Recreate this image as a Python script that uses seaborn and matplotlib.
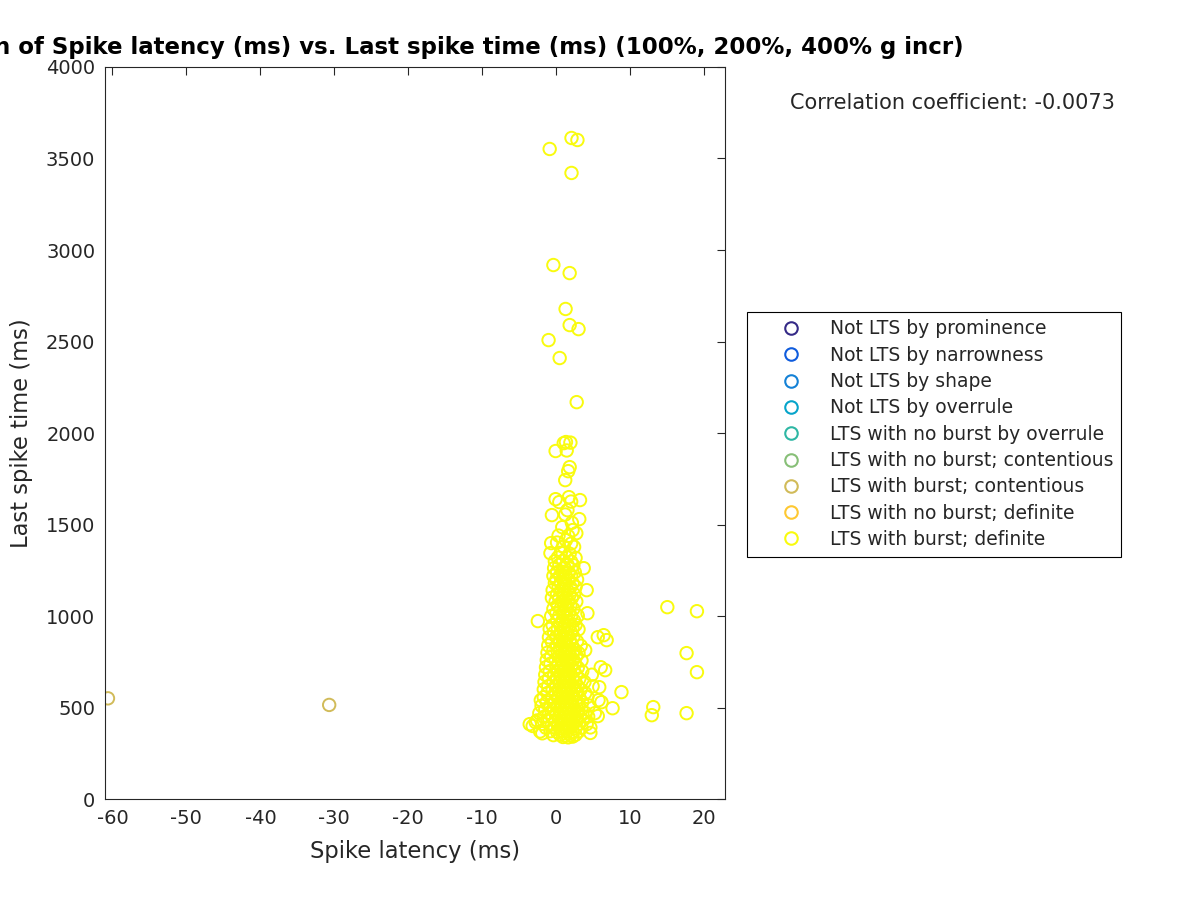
import matplotlib
matplotlib.use("Agg")
import matplotlib.pyplot as plt
from matplotlib.lines import Line2D
import numpy as np
import pandas as pd
import seaborn as sns

title = "Correlation of Spike latency (ms) vs. Last spike time (ms) (100%, 200%, 400% g incr)"
x_label = "Spike latency (ms)"
y_label = "Last spike time (ms)"
corr_text = "Correlation coefficient: -0.0073"

categories = [
    "Not LTS by prominence",
    "Not LTS by narrowness",
    "Not LTS by shape",
    "Not LTS by overrule",
    "LTS with no burst by overrule",
    "LTS with no burst; contentious",
    "LTS with burst; contentious",
    "LTS with no burst; definite",
    "LTS with burst; definite",
]
colors = ["#352A87", "#0F5CDD", "#1481D6", "#06A4CA", "#2EB7A4",
          "#87BF77", "#D1BB59", "#FEC832", "#F9FB0E"]

x_ticks = [-60, -50, -40, -30, -20, -10, 0, 10, 20]
y_ticks = [0, 500, 1000, 1500, 2000, 2500, 3000, 3500, 4000]

# (spike latency, last spike time) -- LTS with burst; contentious
contentious_pairs = [(-60.6, 551), (-30.7, 515)]

# (spike latency, last spike time) -- LTS with burst; definite
definite_pairs = [
    # high outliers
    (-0.9, 3552), (2.05, 3612), (2.85, 3601), (2.05, 3421), (-0.4, 2918), (1.8, 2874),
    (1.25, 2678), (1.8, 2590), (3.0, 2568), (-1.05, 2508), (0.45, 2410), (2.75, 2169),
    # far right outliers
    (13.1, 503), (12.9, 459), (15.0, 1049), (19.0, 1027), (17.6, 798), (19.0, 694), (17.6, 470),
    # upper part of the column
    (1.3, 1951), (1.9, 1948), (1.0, 1945), (-0.1, 1902), (1.4, 1905), (1.8, 1814), (1.6, 1792),
    (1.2, 1743), (1.7, 1650), (-0.1, 1639), (3.2, 1634), (0.4, 1623), (2.0, 1626),
    (1.5, 1579), (-0.6, 1552), (1.2, 1555), (3.1, 1530), (2.1, 1510), (0.8, 1486),
    (2.2, 1470), (2.7, 1453), (0.3, 1440), (1.6, 1438), (1.3, 1415), (-0.7, 1399),
    (0.1, 1402), (2.0, 1396), (1.0, 1380), (2.4, 1378), (-0.8, 1344), (0.6, 1346),
    (1.8, 1341), (0.2, 1320), (1.4, 1322), (2.6, 1318), (-0.2, 1300), (0.9, 1302),
    (2.0, 1298), (0.4, 1280), (1.5, 1282), (2.3, 1278), (-0.3, 1262), (1.1, 1264),
    (3.7, 1262),
    # core
    (0.1, 1240), (0.8, 1242), (1.7, 1238), (2.5, 1240),
    (-0.4, 1220), (0.5, 1222), (1.3, 1218), (2.0, 1220),
    (0.0, 1200), (0.9, 1202), (1.6, 1198), (2.8, 1200),
    (-0.2, 1180), (0.6, 1182), (1.2, 1178), (2.2, 1180),
    (0.3, 1160), (1.0, 1162), (1.9, 1158), (2.6, 1160),
    (-0.5, 1142), (0.7, 1144), (1.5, 1140), (4.1, 1142),
    (0.1, 1120), (0.9, 1122), (1.8, 1118), (2.4, 1120),
    (-0.6, 1100), (0.4, 1102), (1.3, 1098), (2.1, 1100),
    (-0.1, 1080), (0.8, 1082), (1.6, 1078), (2.7, 1080),
    (0.2, 1060), (1.1, 1062), (1.9, 1058),
    (-0.4, 1040), (0.6, 1042), (1.4, 1038), (2.3, 1040),
    (0.0, 1016), (0.9, 1018), (1.7, 1014), (4.2, 1016),
    (-0.7, 1000), (0.4, 1002), (1.2, 998), (2.0, 1000), (2.9, 1002),
    (-2.5, 973), (0.1, 975), (0.8, 971), (1.5, 973), (2.4, 975),
    (-0.5, 950), (0.5, 952), (1.1, 948), (1.8, 950), (2.6, 952),
    (-0.9, 930), (0.2, 932), (0.9, 928), (1.6, 930), (2.2, 932), (3.0, 928),
    (-0.3, 910), (0.6, 912), (1.3, 908), (2.0, 910),
    (6.4, 896), (6.8, 869),
    (-1.0, 885), (0.0, 887), (0.8, 883), (1.5, 885), (2.3, 887), (5.6, 885),
    (-0.6, 860), (0.4, 862), (1.1, 858), (1.9, 860), (2.8, 862),
    (-1.1, 840), (0.1, 842), (0.7, 838), (1.4, 840), (2.1, 842), (3.3, 838),
    (-0.4, 814), (0.5, 816), (1.2, 812), (1.8, 814), (2.5, 816), (3.9, 814),
    (-1.2, 800), (0.2, 802), (0.9, 798), (1.6, 800), (2.2, 802), (3.0, 798),
    (-0.7, 780), (0.4, 782), (1.1, 778), (1.9, 780), (2.7, 782),
    (-1.3, 760), (-0.1, 762), (0.7, 758), (1.4, 760), (2.3, 762), (3.4, 758),
    (-0.8, 740), (0.3, 742), (1.0, 738), (1.7, 740), (2.5, 742),
    (-1.4, 721), (0.0, 723), (0.6, 719), (1.3, 721), (2.0, 723), (2.9, 719), (6.0, 721),
    (6.6, 705),
    (-0.9, 700), (0.2, 702), (0.9, 698), (1.6, 700), (2.4, 702), (3.5, 698),
    (-1.5, 680), (-0.3, 682), (0.5, 678), (1.2, 680), (1.9, 682), (2.7, 678), (4.8, 680),
    (-1.0, 660), (0.1, 662), (0.8, 658), (1.5, 660), (2.2, 662), (3.1, 658),
    (-1.6, 640), (-0.4, 642), (0.4, 638), (1.1, 640), (1.8, 642), (2.6, 638), (3.8, 640),
    (-1.1, 617), (0.0, 619), (0.7, 615), (1.4, 617), (2.1, 619), (2.9, 615), (4.9, 617), (5.8, 612),
    (-1.7, 600), (-0.5, 602), (0.3, 598), (1.0, 600), (1.7, 602), (2.4, 598), (3.3, 600),
    (8.8, 585),
    (-1.2, 580), (-0.1, 582), (0.6, 578), (1.3, 580), (2.0, 582), (2.8, 578), (3.9, 580),
    (-1.7, 557), (-0.6, 559), (0.2, 555), (0.9, 557), (1.6, 559), (2.3, 555), (3.1, 557), (4.2, 559),
    (-2.1, 541), (5.7, 541),
    (-1.3, 530), (-0.2, 532), (0.5, 528), (1.2, 530), (1.9, 532), (2.6, 528), (3.5, 530), (6.1, 530),
    (-2.0, 510), (-0.8, 512), (0.1, 508), (0.8, 510), (1.5, 512), (2.2, 508), (3.0, 510), (4.4, 512),
    (7.6, 497),
    (-1.5, 490), (-0.3, 492), (0.4, 488), (1.1, 490), (1.8, 492), (2.5, 488), (3.4, 490),
    (-2.3, 470), (-1.0, 472), (0.0, 468), (0.7, 470), (1.4, 472), (2.1, 468), (2.9, 470), (3.9, 472), (5.2, 470),
    (5.6, 454),
    (-1.7, 450), (-0.5, 452), (0.3, 448), (1.0, 450), (1.7, 452), (2.4, 448), (3.2, 450), (4.3, 452),
    (-2.6, 430), (-1.2, 432), (-0.1, 428), (0.6, 430), (1.3, 432), (2.0, 428), (2.8, 430), (3.6, 432),
    (-2.8, 421),
    (-3.6, 410), (-1.9, 412), (-0.6, 408), (0.2, 410), (0.9, 412), (1.6, 408), (2.3, 410), (3.1, 412), (4.1, 410),
    (-3.2, 400),
    (-1.4, 390), (-0.2, 392), (0.5, 388), (1.2, 390), (1.9, 392), (2.6, 388), (3.4, 390), (4.6, 392),
    (-2.2, 370), (-0.8, 372), (0.1, 368), (0.8, 370), (1.5, 372), (2.2, 368), (3.0, 370),
    (-1.9, 360), (4.6, 362),
    (-0.4, 350), (0.5, 352), (1.2, 348), (1.9, 350), (2.6, 352),
    (0.9, 340), (1.6, 338), (2.2, 342),
]

rows = []
for lat, last in contentious_pairs:
    rows.append({"latency": lat, "last": last, "cat": categories[6]})
for lat, last in definite_pairs:
    rows.append({"latency": lat, "last": last, "cat": categories[8]})
df = pd.DataFrame(rows)

sns.set_style("white")
plt.rcParams["font.family"] = ["DejaVu Sans"]
plt.rcParams["axes.unicode_minus"] = False

fig = plt.figure(figsize=(12, 9), dpi=100)
ax = fig.add_axes([0.0875, 0.112, 0.5167, 0.8136])

sns.scatterplot(data=df, x="latency", y="last", hue="cat", hue_order=categories,
                palette=dict(zip(categories, colors)), s=80, linewidth=1.4,
                ax=ax, legend=False)
for coll in ax.collections:
    fc = coll.get_facecolors()
    coll.set_edgecolors(fc)
    coll.set_facecolors("none")
    coll.set_linewidths(1.4)

ax.set_xlim(-61.0, 22.8)
ax.set_ylim(0, 4000)
ax.set_xticks(x_ticks)
ax.set_yticks(y_ticks)
ax.tick_params(direction="in", top=True, right=True, length=6, width=0.8,
               colors="#262626", labelsize=14, pad=7)
for sp in ax.spines.values():
    sp.set_color("#262626")
    sp.set_linewidth(0.8)

ax.set_xlabel(x_label, fontsize=16.3, color="#262626", labelpad=9)
ax.set_ylabel(y_label, fontsize=16.3, color="#262626", labelpad=9)
ax.set_title(title, fontsize=16.45, fontweight="bold", color="black", pad=9)

fig.text(790 / 1200, 1 - 103 / 900, corr_text, fontsize=15, ha="left", va="center")

handles = [Line2D([], [], marker="o", linestyle="none", markerfacecolor="none",
                  markeredgecolor=c, markersize=9, markeredgewidth=1.5)
           for c in colors]
leg = fig.legend(handles, categories, loc="upper left",
                 bbox_to_anchor=(747 / 1200, 1 - 312 / 900), bbox_transform=fig.transFigure,
                 fontsize=13.5, frameon=True, fancybox=False, edgecolor="black",
                 framealpha=1, borderaxespad=0, borderpad=0.4, handlelength=3.9,
                 handletextpad=0.1, labelspacing=0.39)
leg.get_frame().set_linewidth(0.8)

fig.savefig("out.png", dpi=100)
